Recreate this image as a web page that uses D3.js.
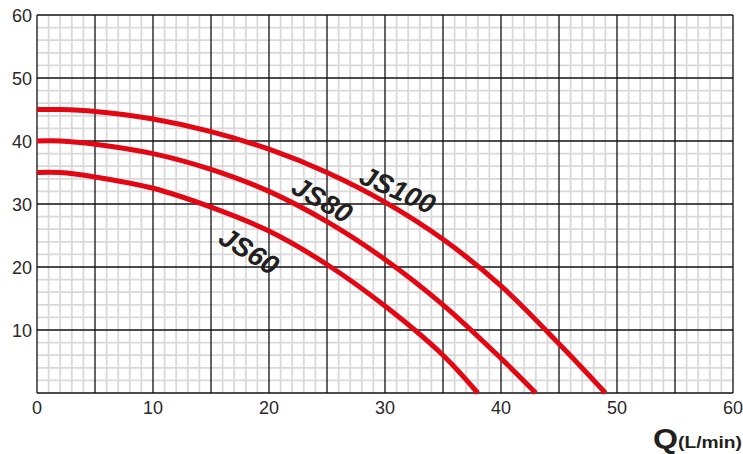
<!DOCTYPE html>
<html>
<head>
<meta charset="utf-8">
<script src="https://cdn.jsdelivr.net/npm/d3@7"></script>
<style>
  body { margin: 0; background: #fff; }
  svg { font-family: "Liberation Sans", Arial, sans-serif; }
</style>
</head>
<body>
<svg width="743" height="454"></svg>
<script>
// Flow (L/min) vs head (m) for each pump model
const js100Q = [0, 2, 5, 10, 15, 20, 25, 30, 35, 40, 45, 49];
const js100H = [45, 45, 44.7, 43.5, 41.5, 38.7, 35, 30.3, 24.4, 17, 7.8, 0];
const js80Q = [0, 2, 5, 10, 15, 20, 25, 30, 35, 40, 43];
const js80H = [40, 40, 39.5, 38, 35.5, 32, 27.2, 21.2, 14, 5.5, 0];
const js60Q = [0, 2, 5, 10, 15, 20, 25, 30, 35, 38];
const js60H = [35, 35, 34.3, 32.5, 29.5, 25.7, 20.4, 13.8, 6, 0];
const xTicks = [0, 10, 20, 30, 40, 50, 60];
const yTicks = [10, 20, 30, 40, 50, 60];

const svg = d3.select("svg");
const margin = { left: 37, top: 15, right: 10, bottom: 61 };
const width = 733 - margin.left;
const height = 393 - margin.top;

const x = d3.scaleLinear().domain([0, 60]).range([margin.left, margin.left + width]);
const y = d3.scaleLinear().domain([0, 60]).range([margin.top + height, margin.top]);

// minor grid
const grid = svg.append("g");
grid.selectAll(".vminor")
    .data(d3.range(1, 60).filter(d => d % 5 !== 0))
    .enter().append("line")
    .attr("x1", d => x(d)).attr("x2", d => x(d))
    .attr("y1", y(0)).attr("y2", y(60))
    .attr("stroke", "#d9d9d9").attr("stroke-width", 1.8);
grid.selectAll(".hminor")
    .data(d3.range(2, 60, 2).filter(d => d % 10 !== 0))
    .enter().append("line")
    .attr("x1", x(0)).attr("x2", x(60))
    .attr("y1", d => y(d)).attr("y2", d => y(d))
    .attr("stroke", "#d9d9d9").attr("stroke-width", 1.8);

// major grid
grid.selectAll(".vmajor")
    .data(d3.range(0, 61, 5))
    .enter().append("line")
    .attr("x1", d => x(d)).attr("x2", d => x(d))
    .attr("y1", y(0)).attr("y2", y(60))
    .attr("stroke", "#111").attr("stroke-width", 1.3);
grid.selectAll(".hmajor")
    .data(d3.range(0, 61, 10))
    .enter().append("line")
    .attr("x1", x(0)).attr("x2", x(60))
    .attr("y1", d => y(d)).attr("y2", d => y(d))
    .attr("stroke", "#111").attr("stroke-width", 1.3);

// tick labels
svg.selectAll(".xlab")
    .data(xTicks)
    .enter().append("text")
    .attr("x", d => x(d)).attr("y", y(0) + 21)
    .attr("text-anchor", "middle")
    .attr("font-size", 18).attr("fill", "#2b2728")
    .text(d => d);
svg.selectAll(".ylab")
    .data(yTicks)
    .enter().append("text")
    .attr("x", x(0) - 5).attr("y", d => y(d) + 6.5)
    .attr("text-anchor", "end")
    .attr("font-size", 18).attr("fill", "#2b2728")
    .text(d => d);

// axis title
svg.append("text")
    .attr("x", 653).attr("y", 448)
    .attr("fill", "#231f20").attr("font-weight", "bold")
    .attr("font-size", 27)
    .attr("textLength", 25).attr("lengthAdjust", "spacingAndGlyphs")
    .text("Q");
svg.append("text")
    .attr("x", 678).attr("y", 448)
    .attr("fill", "#231f20").attr("font-weight", "bold")
    .attr("font-size", 17)
    .attr("textLength", 64).attr("lengthAdjust", "spacingAndGlyphs")
    .text("(L/min)");

// curves
const line = d3.line()
    .x(d => x(d[0]))
    .y(d => y(d[1]))
    .curve(d3.curveCatmullRom.alpha(0.5));

const series = [
    { name: "JS100", q: js100Q, h: js100H },
    { name: "JS80", q: js80Q, h: js80H },
    { name: "JS60", q: js60Q, h: js60H }
];

svg.selectAll(".curve")
    .data(series)
    .enter().append("path")
    .attr("d", s => line(s.q.map((q, i) => [q, s.h[i]])))
    .attr("fill", "none")
    .attr("stroke", "#e30613")
    .attr("stroke-width", 5);

// curve labels
const labels = [
    { text: "JS100", qx: 31.1, hy: 32.3, rot: 24 },
    { text: "JS80", qx: 24.6, hy: 30.7, rot: 30 },
    { text: "JS60", qx: 18.3, hy: 22.6, rot: 32 }
];
svg.selectAll(".clab")
    .data(labels)
    .enter().append("text")
    .attr("transform", d => `translate(${x(d.qx)},${y(d.hy)}) rotate(${d.rot})`)
    .attr("text-anchor", "middle")
    .attr("dy", "0.36em")
    .attr("font-size", 27.5).attr("font-weight", "bold")
    .attr("font-style", "italic")
    .attr("fill", "#231f20")
    .text(d => d.text);
</script>
</body>
</html>
